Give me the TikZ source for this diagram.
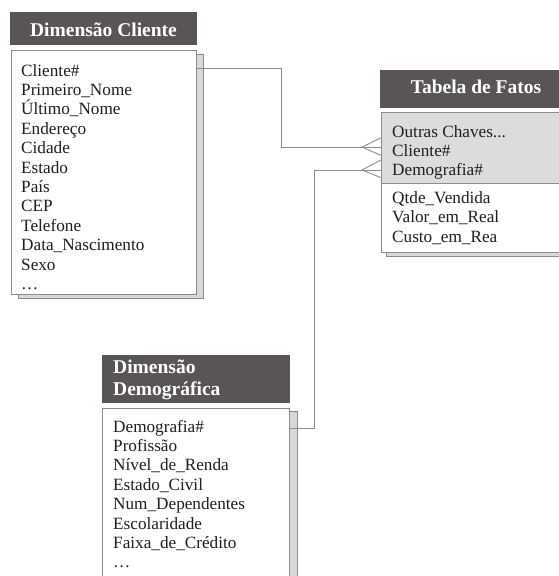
\documentclass[tikz,border=0pt]{standalone}
\usepackage{fontspec}
\setmainfont{Liberation Serif}
\usetikzlibrary{calc}

\definecolor{headgray}{HTML}{5A5555}
\definecolor{keygray}{HTML}{DCDCDC}
\definecolor{shadowgray}{HTML}{D8D8D8}
\definecolor{rulegray}{HTML}{8C8C8C}
\definecolor{inkgray}{HTML}{1E1E1E}

\begin{document}
\begin{tikzpicture}[x=1pt,y=-1pt,
  box/.style={anchor=north west, inner sep=0, outer sep=0},
  head/.style={box, fill=headgray, draw=none},
  headtext/.style={text=white, font=\fontsize{19.5}{22}\selectfont\bfseries, inner sep=0},
  tablebody/.style={box, fill=white, draw=rulegray, line width=0.9pt},
  keyband/.style={box, fill=keygray, draw=rulegray, line width=0.9pt},
  shade/.style={box, fill=shadowgray, draw=rulegray, line width=0.9pt},
  row/.style={text=inkgray, font=\fontsize{17.2}{19.4}\selectfont, inner sep=0, anchor=base west},
  link/.style={draw=rulegray, line width=0.9pt},
]
\useasboundingbox (0,0) rectangle (559,576);

% ---------- Dimensão Cliente ----------
\node[head, minimum width=187, minimum height=33] (chead) at (10,12) {};
\node[headtext, anchor=base] (ctitle) at (103.5,36) {Dimensão Cliente};
\node[shade, minimum width=185, minimum height=244] (cshade) at (18,54) {};
\node[tablebody, minimum width=185, minimum height=244] (cbody) at (11,50) {};
\foreach \t [count=\i from 0] in {Cliente\#, Primeiro\_Nome, Último\_Nome, Endereço,
    Cidade, Estado, País, CEP, Telefone, Data\_Nascimento, Sexo, {…}}
  \node[row] (c\i) at (21,76+19.4*\i) {\t};

% ---------- Tabela de Fatos ----------
\node[head, minimum width=200, minimum height=38] (fhead) at (380,70) {};
\node[headtext, anchor=base] (ftitle) at (476,93) {Tabela de Fatos};
\node[shade, minimum width=200, minimum height=140] (fshade) at (386,116) {};
\node[tablebody, minimum width=200, minimum height=140] (fbody) at (381,112) {};
\node[keyband, minimum width=200, minimum height=71] (fkeys) at (381,112) {};
\node[row] (k0) at (392,137) {Outras Chaves...};
\node[row] (k1) at (392,156.4) {Cliente\#};
\node[row] (k2) at (392,175.8) {Demografia\#};
\node[row] (m0) at (392,203.5) {Qtde\_Vendida};
\node[row] (m1) at (392,222.9) {Valor\_em\_Real};
\node[row] (m2) at (392,242.3) {Custo\_em\_Rea};

% ---------- Dimensão Demográfica ----------
\node[head, minimum width=188, minimum height=48] (dhead) at (102,355) {};
\node[headtext, anchor=base west] (dtitle1) at (113,373) {Dimensão};
\node[headtext, anchor=base west] (dtitle2) at (113,395.5) {Demográfica};
\node[shade, minimum width=188, minimum height=200] (dshade) at (109,411) {};
\node[tablebody, minimum width=187, minimum height=200] (dbody) at (102,408) {};
\foreach \t [count=\i from 0] in {Demografia\#, Profissão, Nível\_de\_Renda, Estado\_Civil,
    Num\_Dependentes, Escolaridade, Faixa\_de\_Crédito, {…}}
  \node[row] (d\i) at (113,432+19.4*\i) {\t};

% ---------- relationships (one-to-many) ----------
\coordinate (bendc) at (281,0);
\coordinate (bendd) at (314,0);
\coordinate (footx) at (362,0);

% Cliente# -> Tabela de Fatos.Cliente#
\coordinate (ca) at ($(c0.base -| cbody.east)+(0,-7.7)$);
\coordinate (fa) at ($(k1.base -| fbody.west)+(0,-9.3)$);
\draw[link] (ca) -- (bendc |- ca) -- (bendc |- fa) -- (footx |- fa);
\draw[link] ($(fa)+(0,-9.4)$) -- (footx |- fa) -- ($(fa)+(0,8.3)$);
\draw[link] (footx |- fa) -- (fa);

% Demografia# -> Tabela de Fatos.Demografia#
\coordinate (da) at ($(d0.base -| dbody.east)+(0,-3.7)$);
\coordinate (fb) at ($(k2.base -| fbody.west)+(0,-5.8)$);
\draw[link] (da) -- (bendd |- da) -- (bendd |- fb) -- (footx |- fb);
\draw[link] ($(fb)+(0,-10)$) -- (footx |- fb) -- ($(fb)+(0,7.7)$);
\draw[link] (footx |- fb) -- (fb);
\end{tikzpicture}
\end{document}
